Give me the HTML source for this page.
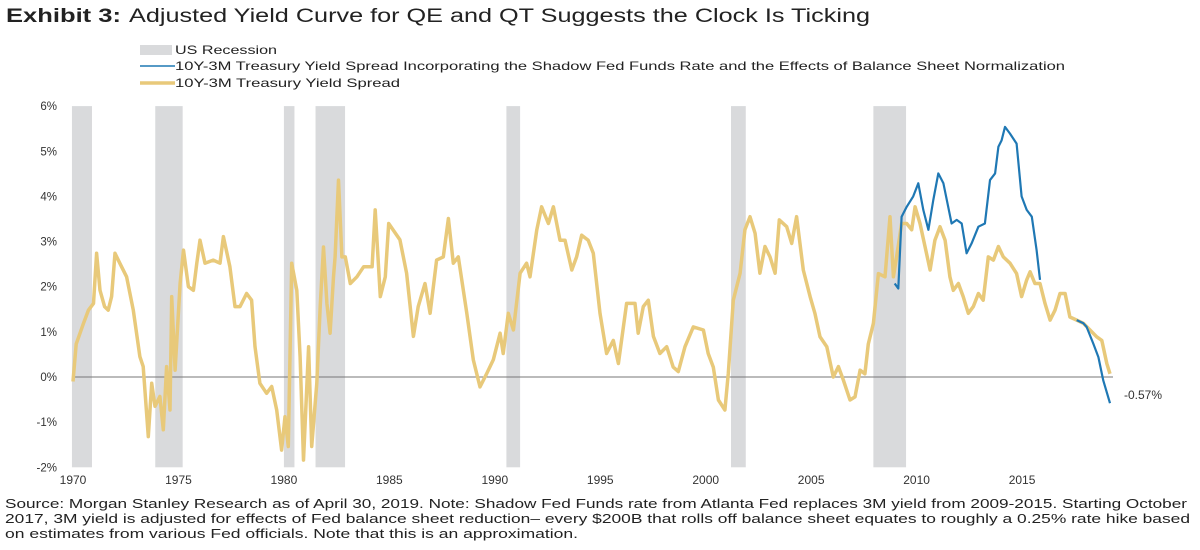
<!DOCTYPE html>
<html><head><meta charset="utf-8"><style>
body{margin:0;background:#fff;}
svg{display:block;font-family:"Liberation Sans Narrow","Liberation Sans",sans-serif;}
</style></head><body>
<svg id="chart" width="1200" height="550" viewBox="0 0 1200 550" xmlns="http://www.w3.org/2000/svg">
<text x="6" y="22" font-size="19" fill="#222"><tspan font-weight="bold" textLength="115" lengthAdjust="spacingAndGlyphs">Exhibit 3:</tspan><tspan x="129" textLength="741" lengthAdjust="spacingAndGlyphs">Adjusted Yield Curve for QE and QT Suggests the Clock Is Ticking</tspan></text>
<g>
<rect x="140" y="45" width="32" height="10" fill="#D9DADC"/>
<text x="175" y="54" font-size="12" fill="#222" textLength="102" lengthAdjust="spacingAndGlyphs">US Recession</text>
<line x1="140" y1="66" x2="175" y2="66" stroke="#1F78B4" stroke-width="1.5"/>
<text x="175" y="70" font-size="12" fill="#222" textLength="890" lengthAdjust="spacingAndGlyphs">10Y-3M Treasury Yield Spread Incorporating the Shadow Fed Funds Rate and the Effects of Balance Sheet Normalization</text>
<line x1="140" y1="83" x2="175" y2="83" stroke="#E8C97A" stroke-width="3.5"/>
<text x="175" y="87" font-size="12" fill="#222" textLength="225" lengthAdjust="spacingAndGlyphs">10Y-3M Treasury Yield Spread</text>
</g>
<g id="plot"></g>
<g font-size="12.5" fill="#222">
<text x="5" y="508" textLength="1182" lengthAdjust="spacingAndGlyphs">Source: Morgan Stanley Research as of April 30, 2019. Note: Shadow Fed Funds rate from Atlanta Fed replaces 3M yield from 2009-2015. Starting October</text>
<text x="5" y="523" textLength="1185" lengthAdjust="spacingAndGlyphs">2017, 3M yield is adjusted for effects of Fed balance sheet reduction– every $200B that rolls off balance sheet equates to roughly a 0.25% rate hike based</text>
<text x="5" y="538" textLength="573" lengthAdjust="spacingAndGlyphs">on estimates from various Fed officials. Note that this is an approximation.</text>
</g>
</svg>
<script>
const yTicks=[-2,-1,0,1,2,3,4,5,6];
const xTicks=[1970,1975,1980,1985,1990,1995,2000,2005,2010,2015];
const recStart=[1969.95,1973.9,1980.0,1981.5,1990.55,2001.2,2007.95];
const recEnd=[1970.9,1975.2,1980.5,1982.9,1991.2,2001.9,2009.5];
const spreadYears=[1970.0,1970.15,1970.5,1970.73,1970.97,1971.12,1971.28,1971.5,1971.67,1971.83,1971.99,1972.22,1972.54,1972.86,1973.17,1973.33,1973.57,1973.73,1973.89,1974.12,1974.28,1974.44,1974.6,1974.68,1974.84,1975.08,1975.24,1975.47,1975.71,1975.87,1976.02,1976.26,1976.65,1976.97,1977.13,1977.44,1977.68,1977.92,1978.23,1978.47,1978.63,1978.86,1979.18,1979.42,1979.66,1979.89,1980.05,1980.21,1980.37,1980.61,1980.77,1980.93,1981.17,1981.32,1981.56,1981.72,1981.88,1982.04,1982.19,1982.35,1982.43,1982.59,1982.75,1982.91,1983.15,1983.46,1983.78,1984.18,1984.33,1984.57,1984.81,1984.97,1985.5,1985.82,1986.14,1986.37,1986.69,1986.93,1987.24,1987.56,1987.8,1988.03,1988.27,1988.67,1988.98,1989.3,1989.62,1989.93,1990.25,1990.4,1990.64,1990.88,1991.2,1991.51,1991.67,1991.99,1992.22,1992.54,1992.78,1993.09,1993.33,1993.65,1993.88,1994.12,1994.43,1994.67,1994.99,1995.3,1995.62,1995.86,1996.25,1996.65,1996.8,1997.04,1997.28,1997.52,1997.83,1998.15,1998.46,1998.7,1999.02,1999.41,1999.89,2000.12,2000.36,2000.6,2000.91,2001.07,2001.31,2001.63,2001.86,2002.1,2002.34,2002.57,2002.81,2003.05,2003.29,2003.49,2003.84,2004.08,2004.31,2004.63,2004.95,2005.18,2005.42,2005.74,2006.05,2006.29,2006.53,2006.84,2007.08,2007.32,2007.55,2007.71,2007.95,2008.19,2008.5,2008.74,2008.9,2009.05,2009.29,2009.53,2009.77,2009.93,2010.16,2010.4,2010.64,2010.87,2011.11,2011.35,2011.58,2011.74,2011.98,2012.21,2012.45,2012.69,2012.93,2013.16,2013.4,2013.64,2013.88,2014.11,2014.43,2014.74,2014.98,2015.22,2015.38,2015.61,2015.85,2016.09,2016.33,2016.56,2016.8,2017.04,2017.27,2017.59,2017.91,2018.22,2018.54,2018.78,2019.02,2019.17];
const spreadValues=[-0.1,0.73,1.19,1.48,1.63,2.74,1.92,1.56,1.48,1.78,2.74,2.52,2.22,1.48,0.45,0.23,-1.32,-0.14,-0.65,-0.43,-1.17,0.23,-0.73,1.78,0.15,2.07,2.81,2.0,1.92,2.52,3.03,2.52,2.59,2.52,3.11,2.44,1.56,1.56,1.85,1.7,0.67,-0.14,-0.36,-0.21,-0.73,-1.62,-0.88,-1.54,2.52,1.92,0.45,-1.84,0.67,-1.54,-0.14,1.56,2.88,1.63,0.97,2.22,2.66,4.36,2.66,2.66,2.07,2.22,2.44,2.44,3.7,1.78,2.22,3.4,3.04,2.3,0.9,1.56,2.07,1.41,2.59,2.66,3.51,2.52,2.66,1.41,0.38,-0.22,0.08,0.38,0.97,0.52,1.41,1.04,2.3,2.52,2.22,3.26,3.77,3.4,3.77,3.03,3.03,2.37,2.66,3.14,3.03,2.74,1.41,0.52,0.81,0.3,1.63,1.63,0.97,1.56,1.7,0.9,0.52,0.67,0.22,0.12,0.67,1.11,1.04,0.52,0.22,-0.51,-0.73,0.08,1.7,2.3,3.26,3.55,3.18,2.3,2.89,2.66,2.3,3.48,3.33,2.96,3.55,2.37,1.78,1.41,0.89,0.67,0.0,0.23,-0.07,-0.51,-0.44,0.15,0.07,0.73,1.19,2.29,2.22,3.55,2.22,2.66,3.4,3.4,3.26,3.77,3.4,2.89,2.37,3.03,3.33,3.03,2.22,1.92,2.07,1.78,1.41,1.56,1.85,1.7,2.66,2.59,2.89,2.66,2.52,2.29,1.78,2.15,2.33,2.07,2.07,1.63,1.26,1.48,1.85,1.85,1.33,1.26,1.19,1.04,0.89,0.81,0.3,0.07];
const adjYears1=[2008.96,2009.13,2009.29,2009.53,2009.84,2010.08,2010.32,2010.56,2010.79,2011.03,2011.27,2011.5,2011.66,2011.9,2012.14,2012.37,2012.61,2012.93,2013.24,2013.48,2013.72,2013.88,2014.03,2014.19,2014.43,2014.74,2014.98,2015.22,2015.46,2015.69,2015.85];
const adjValues1=[2.07,1.96,3.55,3.77,4.0,4.29,3.7,3.26,3.92,4.51,4.29,3.77,3.4,3.48,3.4,2.74,2.96,3.33,3.4,4.36,4.51,5.1,5.24,5.54,5.39,5.17,4.0,3.7,3.55,2.81,2.15];
const adjYears2=[2017.59,2017.91,2018.06,2018.38,2018.62,2018.85,2019.17];
const adjValues2=[1.26,1.19,1.11,0.74,0.44,-0.07,-0.58];
const lastLabel="-0.57%";

const NS="http://www.w3.org/2000/svg";
const plot=document.getElementById('plot');
const X=yr=>73+(yr-1970)*21.09;
const Y=v=>377-v*45.15;
function mk(tag,attrs){const e=document.createElementNS(NS,tag);for(const k in attrs)e.setAttribute(k,attrs[k]);plot.appendChild(e);return e;}
recStart.forEach((s,i)=>{
  const r=mk('rect',{x:X(s),y:Y(6),width:X(recEnd[i])-X(s),height:Y(-2)-Y(6),fill:'#D9DADC'});
  
  
});
yTicks.forEach(t=>{
  const tx=mk('text',{x:57,y:Y(t)+4,'text-anchor':'end','font-size':11.5,fill:'#333'});
  tx.textContent=t+'%';
  
  
});
xTicks.forEach(t=>{
  const tx=mk('text',{x:X(t),y:484,'text-anchor':'middle','font-size':12,fill:'#333'});
  tx.textContent=t;
  
  
});
const zl=mk('line',{x1:73,x2:1113,y1:Y(0),y2:Y(0),stroke:'#777','stroke-width':1});


function path(xs,vs){return xs.map((x,i)=>(i?'L':'M')+X(x).toFixed(1)+','+Y(vs[i]).toFixed(1)).join('');}
const sp=mk('path',{d:path(spreadYears,spreadValues),fill:'none',stroke:'#E8C97A','stroke-width':3.5,'stroke-linejoin':'round'});


const a1=mk('path',{d:path(adjYears1,adjValues1),fill:'none',stroke:'#1F78B4','stroke-width':2.2,'stroke-linejoin':'round'});


const a2=mk('path',{d:path(adjYears2,adjValues2),fill:'none',stroke:'#1F78B4','stroke-width':2.2,'stroke-linejoin':'round'});


const lb=mk('text',{x:1124,y:Y(adjValues2[adjValues2.length-1])-4,'font-size':12,fill:'#333'});
lb.textContent=lastLabel;


</script>
</body></html>
